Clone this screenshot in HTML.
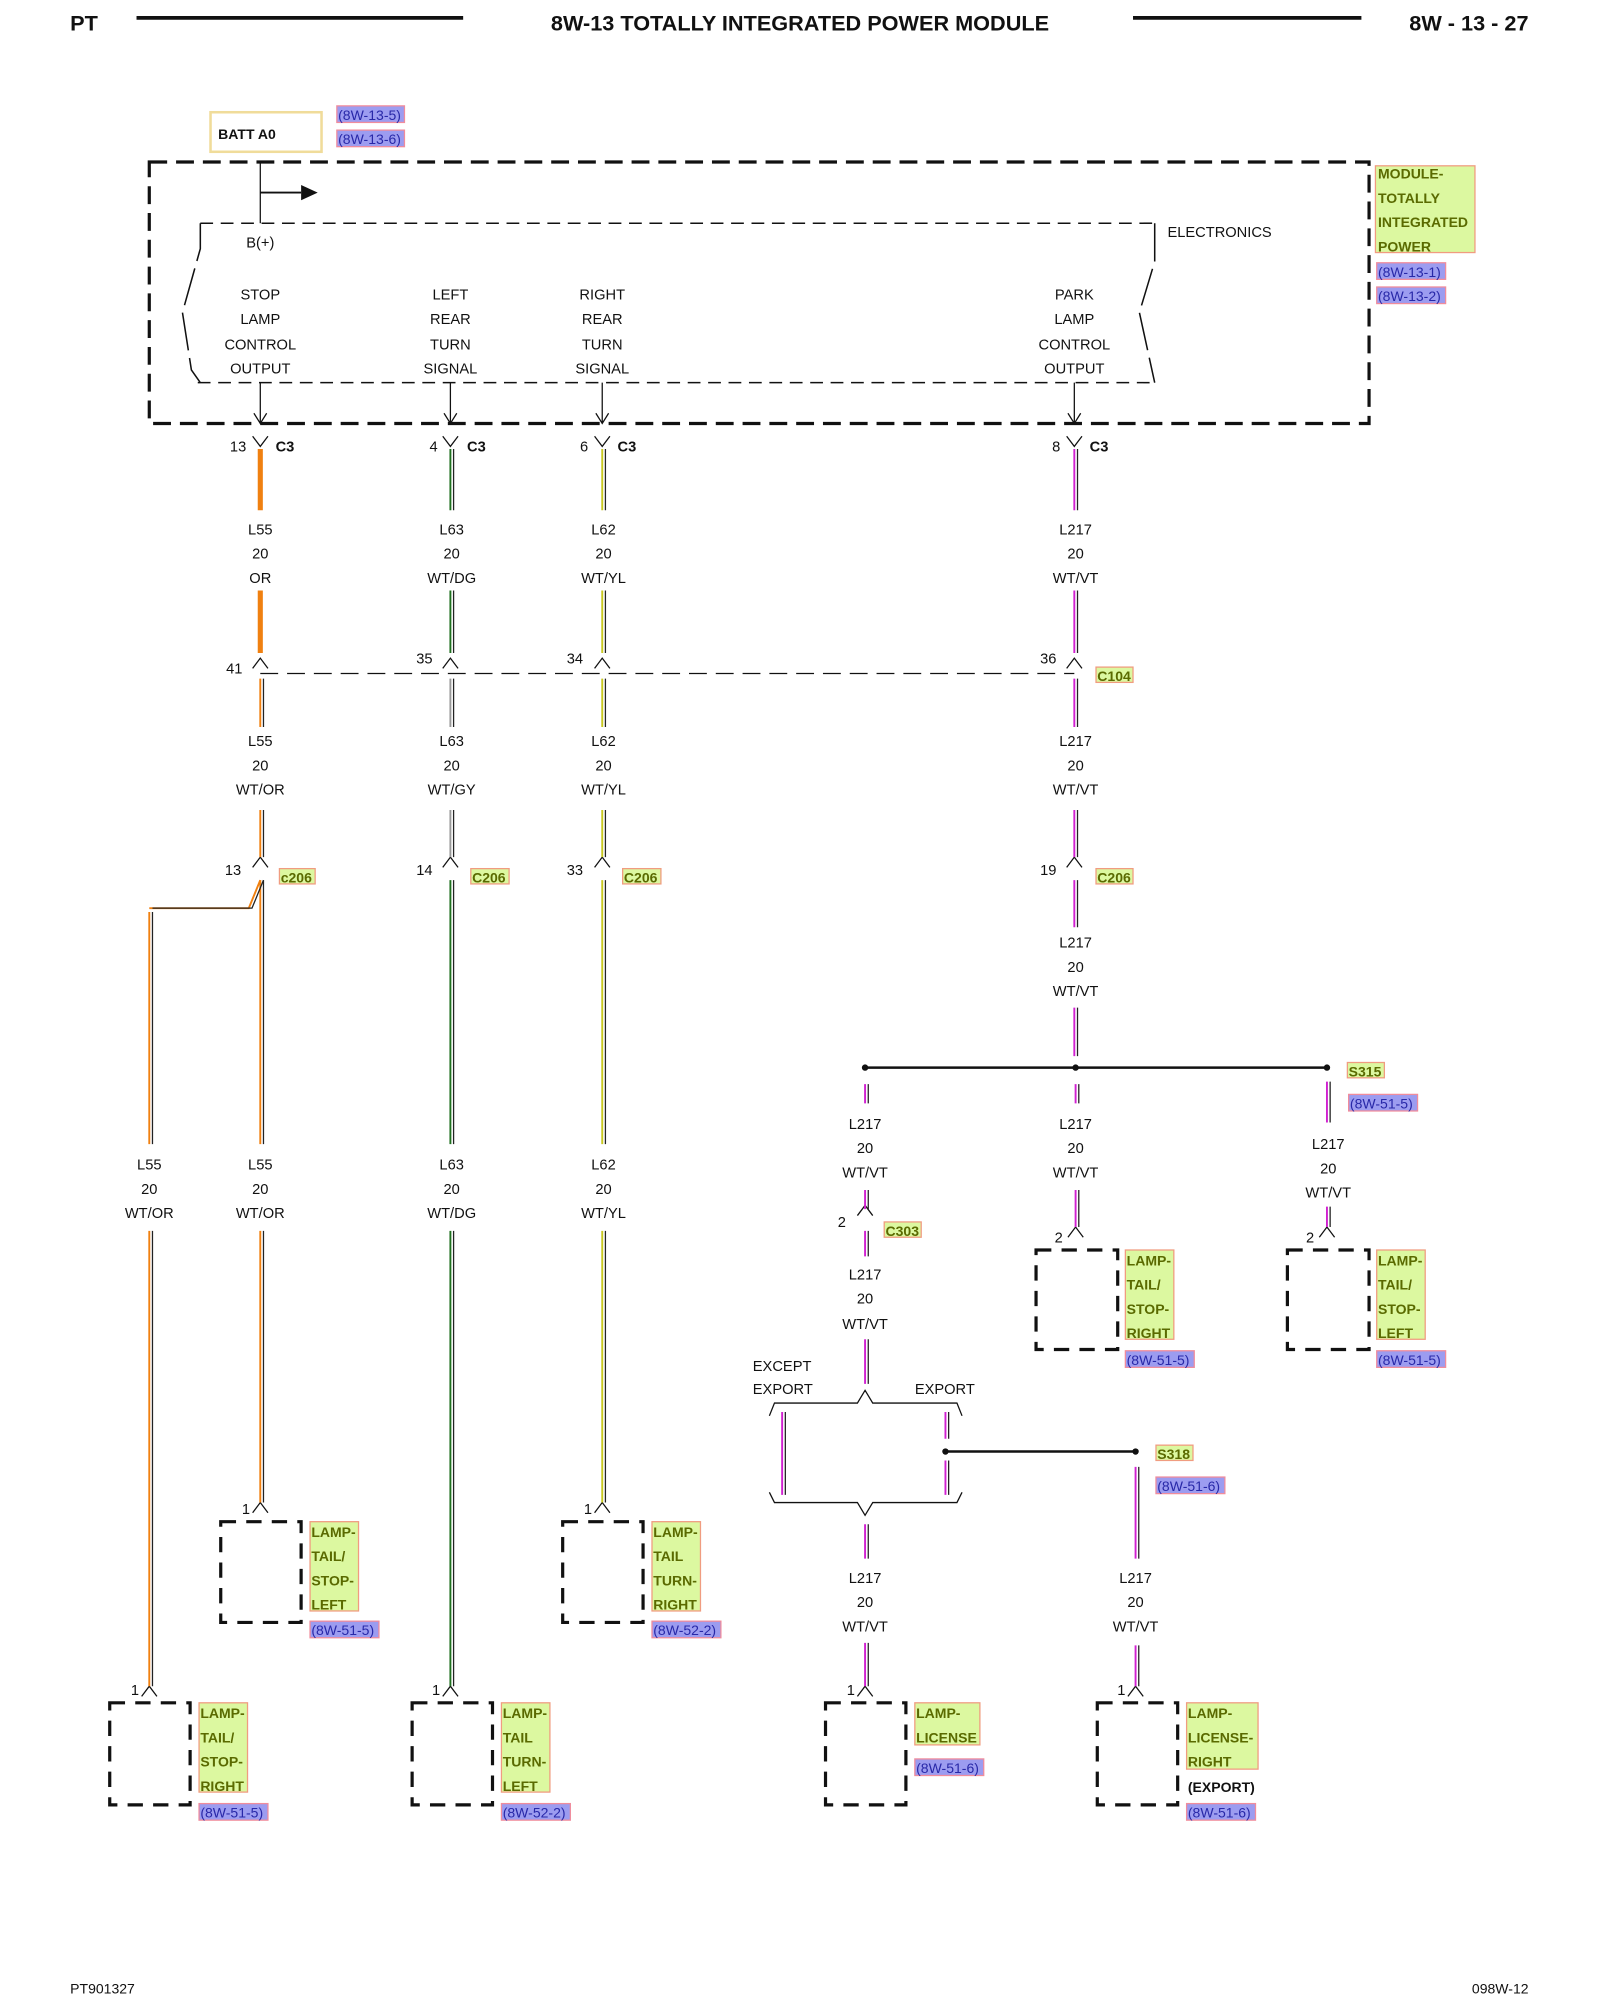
<!DOCTYPE html>
<html><head><meta charset="utf-8"><style>
html,body{margin:0;padding:0;background:#fff}
svg{display:block}
text{font-family:"Liberation Sans",Arial,sans-serif;font-size:11.5px;fill:#111}
.c{text-anchor:middle}
.b{font-weight:bold}
.g{fill:#5a6a00;font-weight:bold;font-size:11px}
.p{fill:#2828a8;font-size:11px}
.hd{font-weight:bold;font-size:17px}
</style></head><body>
<svg width="1600" height="2000" viewBox="0 0 1254 1568" preserveAspectRatio="none" xmlns="http://www.w3.org/2000/svg">
<defs>
<g id="wor"><path d="M204 352V400M204 463V512"/></g>
<g id="wwor"><path d="M204 532V570M204 635V672M204 690V897M204 965V1178M117 715V897M117 965V1322"/><path d="M204 690L195 712H117" fill="none"/></g>
<g id="wdg"><path d="M353 352V400M353 463V512M353 690V897M353 965V1322"/></g>
<g id="wgy"><path d="M353 532V570M353 635V672"/></g>
<g id="wyl"><path d="M472 352V400M472 463V512M472 532V570M472 635V672M472 690V897M472 965V1178"/></g>
<g id="wvt"><path d="M842 352V400M842 463V512M842 532V570M842 635V672M842 690V727M842 790V828M678 850V865M678 933V948M678 965V985M678 1050V1085M843 850V865M843 933V962M1040 848V880M1040 946V962M613 1107V1172M741 1107V1128M741 1145V1172M890 1150V1222M890 1290V1322M678 1195V1222M678 1288V1322"/></g>
</defs>

<text x="55" y="24" class="hd">PT</text>
<line x1="107" y1="14" x2="363" y2="14" stroke="#111" stroke-width="3"/>
<text x="627" y="24" class="hd c">8W-13 TOTALLY INTEGRATED POWER MODULE</text>
<line x1="888" y1="14" x2="1067" y2="14" stroke="#111" stroke-width="3"/>
<text x="1198" y="24" class="hd" text-anchor="end">8W - 13 - 27</text>

<rect x="165" y="88" width="87" height="31" fill="none" stroke="#f0dc9a" stroke-width="2"/>
<text x="171" y="109" class="b" style="font-size:11px">BATT A0</text>
<rect x="264" y="83" width="53" height="13" fill="#9c9cf0" stroke="#f08c9c"/><text x="265" y="94" class="p">(8W-13-5)</text>
<rect x="264" y="102" width="53" height="13" fill="#9c9cf0" stroke="#f08c9c"/><text x="265" y="113" class="p">(8W-13-6)</text>

<rect x="117" y="127" width="956" height="205" fill="none" stroke="#111" stroke-width="2.5" stroke-dasharray="14 7"/>
<line x1="204" y1="127" x2="204" y2="175" stroke="#111" stroke-width="1"/>
<line x1="204" y1="151" x2="236" y2="151" stroke="#111" stroke-width="1.5"/>
<polygon points="236,145 249,151 236,157" fill="#111"/>
<g fill="none" stroke="#111" stroke-width="1.2">
<path d="M157 175H905" stroke-dasharray="10 6"/>
<path d="M155 300H905" stroke-dasharray="10 6"/>
<path d="M157 175V195L143 245L150 290L157 300" stroke-dasharray="30 6"/>
<path d="M905 175V205L893 245L905 300" stroke-dasharray="30 6"/>
</g>
<text x="915" y="186">ELECTRONICS</text>
<text x="193" y="194">B(+)</text>
<g class="c">
<text x="204" y="235" class="c">STOP</text><text x="204" y="254" class="c">LAMP</text><text x="204" y="274" class="c">CONTROL</text><text x="204" y="293" class="c">OUTPUT</text>
<text x="353" y="235" class="c">LEFT</text><text x="353" y="254" class="c">REAR</text><text x="353" y="274" class="c">TURN</text><text x="353" y="293" class="c">SIGNAL</text>
<text x="472" y="235" class="c">RIGHT</text><text x="472" y="254" class="c">REAR</text><text x="472" y="274" class="c">TURN</text><text x="472" y="293" class="c">SIGNAL</text>
<text x="842" y="235" class="c">PARK</text><text x="842" y="254" class="c">LAMP</text><text x="842" y="274" class="c">CONTROL</text><text x="842" y="293" class="c">OUTPUT</text>
</g>
<g stroke="#111" fill="none" stroke-width="1">
<path d="M204 300V332M199 324L204 332L209 324"/>
<path d="M353 300V332M348 324L353 332L358 324"/>
<path d="M472 300V332M467 324L472 332L477 324"/>
<path d="M842 300V332M837 324L842 332L847 324"/>
<path d="M198 342L204 350L210 342M347 342L353 350L359 342M466 342L472 350L478 342M836 342L842 350L848 342"/>
<path d="M198 524L204 516L210 524M347 524L353 516L359 524M466 524L472 516L478 524M836 524L842 516L848 524"/>
<path d="M198 680L204 672L210 680M347 680L353 672L359 680M466 680L472 672L478 680M836 680L842 672L848 680"/>
<path d="M672 953L678 945L684 953M837 970L843 962L849 970M1034 970L1040 962L1046 970M198 1186L204 1178L210 1186M466 1186L472 1178L478 1186M111 1330L117 1322L123 1330M347 1330L353 1322L359 1330M672 1330L678 1322L684 1330M884 1330L890 1322L896 1330"/>
</g>
<g class="b" style="font-size:11px"><text x="216" y="354">C3</text><text x="366" y="354">C3</text><text x="484" y="354">C3</text><text x="854" y="354">C3</text></g>
<g style="font-size:11px"><text x="193" y="354" text-anchor="end">13</text><text x="343" y="354" text-anchor="end">4</text><text x="461" y="354" text-anchor="end">6</text><text x="831" y="354" text-anchor="end">8</text>
<text x="190" y="528" text-anchor="end">41</text><text x="339" y="520" text-anchor="end">35</text><text x="457" y="520" text-anchor="end">34</text><text x="828" y="520" text-anchor="end">36</text>
<text x="189" y="686" text-anchor="end">13</text><text x="339" y="686" text-anchor="end">14</text><text x="457" y="686" text-anchor="end">33</text><text x="828" y="686" text-anchor="end">19</text>
<text x="663" y="962" text-anchor="end">2</text><text x="833" y="974" text-anchor="end">2</text><text x="1030" y="974" text-anchor="end">2</text>
<text x="196" y="1187" text-anchor="end">1</text><text x="464" y="1187" text-anchor="end">1</text><text x="109" y="1329" text-anchor="end">1</text><text x="345" y="1329" text-anchor="end">1</text><text x="670" y="1329" text-anchor="end">1</text><text x="882" y="1329" text-anchor="end">1</text></g>

<line x1="204" y1="528" x2="842" y2="528" stroke="#111" stroke-width="1" stroke-dasharray="14 7"/>

<use href="#wor" stroke="#f08010" stroke-width="4" fill="none"/>
<use href="#wwor" stroke="#f08010" stroke-width="1.5" fill="none"/>
<use href="#wwor" transform="translate(2.5,0)" stroke="#222" stroke-width="1" fill="none"/>
<use href="#wdg" stroke="#207020" stroke-width="1.5" fill="none"/>
<use href="#wdg" transform="translate(2.5,0)" stroke="#222" stroke-width="1" fill="none"/>
<use href="#wgy" stroke="#999" stroke-width="1.5" fill="none"/>
<use href="#wgy" transform="translate(2.5,0)" stroke="#222" stroke-width="1" fill="none"/>
<use href="#wyl" stroke="#c8c820" stroke-width="1.5" fill="none"/>
<use href="#wyl" transform="translate(2.5,0)" stroke="#222" stroke-width="1" fill="none"/>
<use href="#wvt" stroke="#d020d0" stroke-width="1.5" fill="none"/>
<use href="#wvt" transform="translate(2.5,0)" stroke="#222" stroke-width="1" fill="none"/>

<g>
<text x="204" y="419" class="c">L55</text><text x="204" y="438" class="c">20</text><text x="204" y="457" class="c">OR</text>
<text x="354" y="419" class="c">L63</text><text x="354" y="438" class="c">20</text><text x="354" y="457" class="c">WT/DG</text>
<text x="473" y="419" class="c">L62</text><text x="473" y="438" class="c">20</text><text x="473" y="457" class="c">WT/YL</text>
<text x="843" y="419" class="c">L217</text><text x="843" y="438" class="c">20</text><text x="843" y="457" class="c">WT/VT</text>
<text x="204" y="585" class="c">L55</text><text x="204" y="604" class="c">20</text><text x="204" y="623" class="c">WT/OR</text>
<text x="354" y="585" class="c">L63</text><text x="354" y="604" class="c">20</text><text x="354" y="623" class="c">WT/GY</text>
<text x="473" y="585" class="c">L62</text><text x="473" y="604" class="c">20</text><text x="473" y="623" class="c">WT/YL</text>
<text x="843" y="585" class="c">L217</text><text x="843" y="604" class="c">20</text><text x="843" y="623" class="c">WT/VT</text>
<text x="843" y="743" class="c">L217</text><text x="843" y="762" class="c">20</text><text x="843" y="781" class="c">WT/VT</text>
<text x="117" y="917" class="c">L55</text><text x="117" y="936" class="c">20</text><text x="117" y="955" class="c">WT/OR</text>
<text x="204" y="917" class="c">L55</text><text x="204" y="936" class="c">20</text><text x="204" y="955" class="c">WT/OR</text>
<text x="354" y="917" class="c">L63</text><text x="354" y="936" class="c">20</text><text x="354" y="955" class="c">WT/DG</text>
<text x="473" y="917" class="c">L62</text><text x="473" y="936" class="c">20</text><text x="473" y="955" class="c">WT/YL</text>
<text x="678" y="885" class="c">L217</text><text x="678" y="904" class="c">20</text><text x="678" y="923" class="c">WT/VT</text>
<text x="843" y="885" class="c">L217</text><text x="843" y="904" class="c">20</text><text x="843" y="923" class="c">WT/VT</text>
<text x="1041" y="901" class="c">L217</text><text x="1041" y="920" class="c">20</text><text x="1041" y="939" class="c">WT/VT</text>
<text x="678" y="1003" class="c">L217</text><text x="678" y="1022" class="c">20</text><text x="678" y="1042" class="c">WT/VT</text>
<text x="678" y="1241" class="c">L217</text><text x="678" y="1260" class="c">20</text><text x="678" y="1279" class="c">WT/VT</text>
<text x="890" y="1241" class="c">L217</text><text x="890" y="1260" class="c">20</text><text x="890" y="1279" class="c">WT/VT</text>
<text x="590" y="1075">EXCEPT</text><text x="590" y="1093">EXPORT</text><text x="717" y="1093">EXPORT</text>
</g>

<g stroke="#111" stroke-width="2" fill="none">
<line x1="678" y1="837" x2="1040" y2="837"/>
<line x1="741" y1="1138" x2="890" y2="1138"/>
</g>
<g fill="#111"><circle cx="678" cy="837" r="2.5"/><circle cx="843" cy="837" r="2.5"/><circle cx="1040" cy="837" r="2.5"/><circle cx="741" cy="1138" r="2.5"/><circle cx="890" cy="1138" r="2.5"/></g>
<path d="M603 1110L607 1100H672L678 1090L684 1100H750L754 1110M603 1170L607 1178H672L678 1188L684 1178H750L754 1170" stroke="#111" fill="none" stroke-width="1"/>

<g fill="none" stroke="#111" stroke-width="2.5" stroke-dasharray="12 8">
<rect x="173" y="1193" width="63" height="79"/>
<rect x="441" y="1193" width="63" height="79"/>
<rect x="86" y="1335" width="63" height="80"/>
<rect x="323" y="1335" width="63" height="80"/>
<rect x="647" y="1335" width="63" height="80"/>
<rect x="860" y="1335" width="63" height="80"/>
<rect x="812" y="980" width="64" height="78"/>
<rect x="1009" y="980" width="64" height="78"/>
</g>

<g fill="#dcf8a0" stroke="#f09c80" stroke-width="1">
<rect x="1078" y="130" width="78" height="68"/>
<rect x="243" y="1193" width="38" height="70"/>
<rect x="511" y="1193" width="38" height="70"/>
<rect x="156" y="1335" width="38" height="70"/>
<rect x="393" y="1335" width="38" height="70"/>
<rect x="717" y="1335" width="51" height="33"/>
<rect x="930" y="1335" width="56" height="52"/>
<rect x="882" y="980" width="38" height="70"/>
<rect x="1079" y="980" width="38" height="70"/>
<rect x="859" y="523" width="29" height="12"/>
<rect x="219" y="681" width="28" height="12"/>
<rect x="369" y="681" width="30" height="12"/>
<rect x="488" y="681" width="30" height="12"/>
<rect x="859" y="681" width="29" height="12"/>
<rect x="693" y="958" width="29" height="12"/>
<rect x="1056" y="833" width="29" height="12"/>
<rect x="906" y="1133" width="29" height="12"/>
</g>
<g class="g">
<text x="1080" y="140" class="g">MODULE-</text><text x="1080" y="159" class="g">TOTALLY</text><text x="1080" y="178" class="g">INTEGRATED</text><text x="1080" y="197" class="g">POWER</text>
<text x="244" y="1205" class="g">LAMP-</text><text x="244" y="1224" class="g">TAIL/</text><text x="244" y="1243" class="g">STOP-</text><text x="244" y="1262" class="g">LEFT</text>
<text x="512" y="1205" class="g">LAMP-</text><text x="512" y="1224" class="g">TAIL</text><text x="512" y="1243" class="g">TURN-</text><text x="512" y="1262" class="g">RIGHT</text>
<text x="157" y="1347" class="g">LAMP-</text><text x="157" y="1366" class="g">TAIL/</text><text x="157" y="1385" class="g">STOP-</text><text x="157" y="1404" class="g">RIGHT</text>
<text x="394" y="1347" class="g">LAMP-</text><text x="394" y="1366" class="g">TAIL</text><text x="394" y="1385" class="g">TURN-</text><text x="394" y="1404" class="g">LEFT</text>
<text x="718" y="1347" class="g">LAMP-</text><text x="718" y="1366" class="g">LICENSE</text>
<text x="931" y="1347" class="g">LAMP-</text><text x="931" y="1366" class="g">LICENSE-</text><text x="931" y="1385" class="g">RIGHT</text>
<text x="883" y="992" class="g">LAMP-</text><text x="883" y="1011" class="g">TAIL/</text><text x="883" y="1030" class="g">STOP-</text><text x="883" y="1049" class="g">RIGHT</text>
<text x="1080" y="992" class="g">LAMP-</text><text x="1080" y="1011" class="g">TAIL/</text><text x="1080" y="1030" class="g">STOP-</text><text x="1080" y="1049" class="g">LEFT</text>
<text x="860" y="534" class="g">C104</text>
<text x="220" y="692" class="g">c206</text><text x="370" y="692" class="g">C206</text><text x="489" y="692" class="g">C206</text><text x="860" y="692" class="g">C206</text>
<text x="694" y="969" class="g">C303</text>
<text x="1057" y="844" class="g">S315</text><text x="907" y="1144" class="g">S318</text>
</g>
<text x="931" y="1405" class="b" style="font-size:11px">(EXPORT)</text>

<g fill="#9c9cf0" stroke="#f08c9c">
<rect x="1079" y="206" width="54" height="13"/><rect x="1079" y="225" width="54" height="13"/>
<rect x="243" y="1271" width="54" height="13"/><rect x="511" y="1271" width="54" height="13"/>
<rect x="156" y="1414" width="54" height="13"/><rect x="393" y="1414" width="54" height="13"/>
<rect x="717" y="1379" width="54" height="13"/><rect x="930" y="1414" width="54" height="13"/>
<rect x="882" y="1059" width="54" height="13"/><rect x="1079" y="1059" width="54" height="13"/>
<rect x="1057" y="858" width="54" height="13"/><rect x="906" y="1158" width="54" height="13"/>
</g>
<g class="p">
<text x="1080" y="217" class="p">(8W-13-1)</text><text x="1080" y="236" class="p">(8W-13-2)</text>
<text x="244" y="1282" class="p">(8W-51-5)</text><text x="512" y="1282" class="p">(8W-52-2)</text>
<text x="157" y="1425" class="p">(8W-51-5)</text><text x="394" y="1425" class="p">(8W-52-2)</text>
<text x="718" y="1390" class="p">(8W-51-6)</text><text x="931" y="1425" class="p">(8W-51-6)</text>
<text x="883" y="1070" class="p">(8W-51-5)</text><text x="1080" y="1070" class="p">(8W-51-5)</text>
<text x="1058" y="869" class="p">(8W-51-5)</text><text x="907" y="1169" class="p">(8W-51-6)</text>
</g>

<text x="55" y="1563" style="font-size:11px">PT901327</text>
<text x="1198" y="1563" text-anchor="end" style="font-size:11px">098W-12</text>
</svg>
</body></html>
